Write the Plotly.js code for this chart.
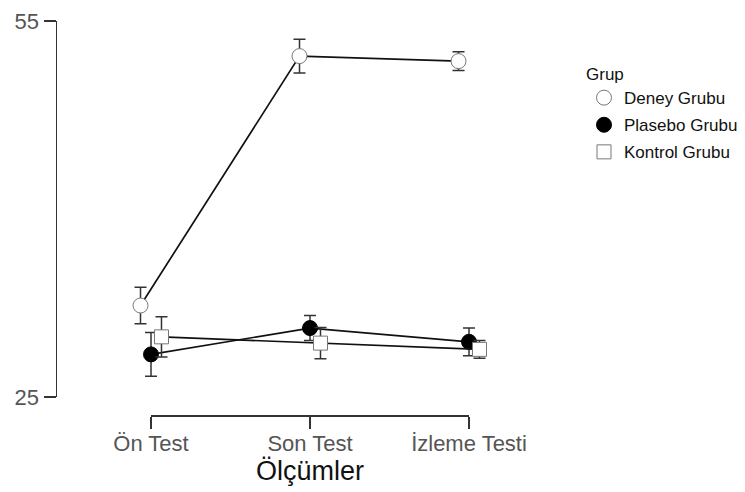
<!DOCTYPE html>
<html><head><meta charset="utf-8">
<script src="https://cdn.plot.ly/plotly-3.0.1.min.js"></script>
<style>html,body{margin:0;padding:0;background:#fff}</style>
</head><body><div id="chart" style="width:745px;height:492px"></div>
<script>
// ---- data ----
const categories = ['Ön Test', 'Son Test', 'İzleme Testi'];
const groups = ['Deney Grubu', 'Plasebo Grubu', 'Kontrol Grubu'];
const deneyMean = [32.3, 52.2, 51.8];
const deneyErr = [1.45, 1.35, 0.75];
const plaseboMean = [28.4, 30.5, 29.4];
const plaseboErr = [1.75, 1.0, 1.1];
const kontrolMean = [29.8, 29.3, 28.8];
const kontrolErr = [1.6, 1.25, 0.7];
const yTicks = [25, 55];

// ---- layout geometry (pixels) ----
const W = 745, H = 492;
const plotL = 57, plotR = 740, plotT = 21, plotB = 415, yAxisBottomPx = 397;
const cat0Px = 151, cat2Px = 469;
const pxPerUnit = (cat2Px - cat0Px) / (categories.length - 1);
const xr0 = (plotL - cat0Px) / pxPerUnit, xr1 = (plotR - cat0Px) / pxPerUnit;
const plotW = plotR - plotL, plotH = plotB - plotT;
const dodge = [-0.066, 0, 0.066];
const catIdx = categories.map((c, i) => i);

function series(name, mean, err, k, symbol, fill, lineCol) {
  const xs = catIdx.map(i => i + dodge[k]);
  return [
    {
      type: 'scatter', mode: 'lines', name: name, showlegend: false,
      x: xs, y: mean, line: {color: '#111', width: 1.7}, hoverinfo: 'skip'
    },
    {
      type: 'scatter', mode: 'markers', name: name, legendgroup: 'g' + k,
      x: xs, y: mean,
      marker: {symbol: symbol, size: symbol === 'square' ? 14 : 15, color: fill, line: {color: lineCol, width: 1}},
      error_y: {type: 'data', array: err, visible: true, color: '#333', thickness: 1.5, width: 6},
      cliponaxis: false, hoverinfo: 'skip'
    }
  ];
}

const traces = [
  ...series(groups[0], deneyMean, deneyErr, 0, 'circle', '#ffffff', '#777'),
  ...series(groups[1], plaseboMean, plaseboErr, 1, 'circle', '#000000', '#000'),
  ...series(groups[2], kontrolMean, kontrolErr, 2, 'square', '#ffffff', '#777'),
  // helper trace (draws nothing) so the category axis x2 is rendered
  {type: 'scatter', mode: 'markers', x: catIdx, y: catIdx.map(() => null), xaxis: 'x2', yaxis: 'y',
   showlegend: false, hoverinfo: 'skip', marker: {opacity: 0}}
];

const layout = {
  width: W, height: H,
  margin: {l: plotL, r: W - plotR, t: plotT, b: H - plotB, pad: 0, autoexpand: false},
  paper_bgcolor: '#fff', plot_bgcolor: 'rgba(0,0,0,0)',
  font: {family: 'Liberation Sans, Arial, sans-serif', color: '#222'},
  showlegend: true,
  xaxis: {range: [xr0, xr1], visible: false, fixedrange: true, domain: [0, 1]},
  xaxis2: {
    anchor: 'free', position: 0,
    domain: [(cat0Px - plotL) / plotW, (cat2Px - plotL) / plotW],
    range: [0, categories.length - 1],
    tickmode: 'array', tickvals: catIdx, ticktext: categories,
    showline: true, linecolor: '#333', linewidth: 1.5,
    ticks: 'outside', ticklen: 12, tickwidth: 1.5, tickcolor: '#333',
    ticklabelstandoff: -4,
    showgrid: false, zeroline: false,
    tickfont: {size: 22, color: '#555'},
    title: {text: 'Ölçümler', font: {size: 27, color: '#111'}, standoff: 6}
  },
  yaxis: {
    domain: [(plotB - yAxisBottomPx) / plotH, 1],
    range: [yTicks[0], yTicks[1]],
    tickmode: 'array', tickvals: yTicks,
    showline: true, linecolor: '#333', linewidth: 1.5,
    ticks: 'outside', ticklen: 12, tickwidth: 1.5, tickcolor: '#333',
    showgrid: false, zeroline: false,
    tickfont: {size: 22, color: '#555'}
  },
  legend: {
    x: (584 - plotL) / plotW, xanchor: 'left',
    y: (plotB - 58) / plotH, yanchor: 'top',
    title: {text: 'Grup', font: {size: 17, color: '#111'}},
    font: {size: 17, color: '#111'},
    traceorder: 'grouped', tracegroupgap: 2,
    bgcolor: 'rgba(0,0,0,0)', itemclick: false, itemdoubleclick: false
  }
};

Plotly.newPlot('chart', traces, layout, {displayModeBar: false, staticPlot: true});
</script>
</body></html>
